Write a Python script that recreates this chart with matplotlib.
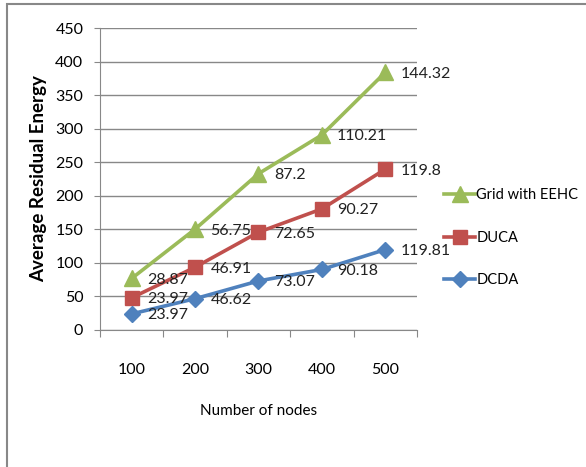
import matplotlib.pyplot as plt
from matplotlib.patches import Rectangle
import numpy as np

nodes = ['100', '200', '300', '400', '500']
dcda = [23.97, 46.62, 73.07, 90.18, 119.81]
duca = [23.97, 46.91, 72.65, 90.27, 119.8]
grid_eehc = [28.87, 56.75, 87.2, 110.21, 144.32]

plt.rcParams['font.family'] = ['Lato', 'DejaVu Sans']

fig = plt.figure(figsize=(5.86, 4.67), dpi=100)
ax = fig.add_axes([0.1706, 0.2934, 0.541, 0.6466])

# stacked lines: each series sits on top of the ones below
x = np.arange(len(nodes)) + 0.5
y_dcda = np.array(dcda)
y_duca = y_dcda + np.array(duca)
y_grid = y_duca + np.array(grid_eehc)

series = [
    ('Grid with EEHC', grid_eehc, y_grid, '#9BBB59', '^', 11),
    ('DUCA', duca, y_duca, '#C0504D', 's', 10),
    ('DCDA', dcda, y_dcda, '#4F81BD', 'D', 8),
]
for name, vals, ys, col, mk, ms in series:
    ax.plot(x, ys, color=col, lw=2.6, marker=mk, markersize=ms, label=name)
    for xi, yi, v in zip(x, ys, vals):
        ax.annotate(f'{v:g}', (xi, yi), xytext=(11, -1), textcoords='offset points',
                    va='center', ha='left', fontsize=11.5, color='#222222')

ax.set_xlim(0, 5)
ax.set_ylim(0, 450)
ax.set_yticks(range(0, 451, 50))
ax.yaxis.grid(True, color='#888888', lw=1)
ax.set_axisbelow(True)

ax.set_xticks(range(0, 6))
ax.set_xticklabels([])
ax.set_xticks(x, minor=True)
ax.set_xticklabels(nodes, minor=True)
ax.tick_params(axis='x', which='major', length=5, color='#888888', direction='out')
ax.tick_params(axis='x', which='minor', length=0, pad=24, labelsize=11.5)
ax.tick_params(axis='y', length=4, color='#888888', pad=8, labelsize=11.5)

for s in ['top', 'right']:
    ax.spines[s].set_visible(False)
for s in ['left', 'bottom']:
    ax.spines[s].set_color('#888888')

ax.set_xlabel('Number of nodes', fontsize=11, labelpad=19)
ax.set_ylabel('Average Residual Energy', fontsize=13.5, fontweight='bold', labelpad=6)

ax.legend(loc='center left', bbox_to_anchor=(1.045, 0.305), frameon=False,
          fontsize=10.5, handlelength=2.1, handletextpad=0.1, labelspacing=1.95)

fig.patches.append(Rectangle((0.012, -0.1), 1.1, 1.0914, transform=fig.transFigure,
                             fill=False, edgecolor='#888888', lw=1.5))

fig.savefig('out.png', dpi=100)
